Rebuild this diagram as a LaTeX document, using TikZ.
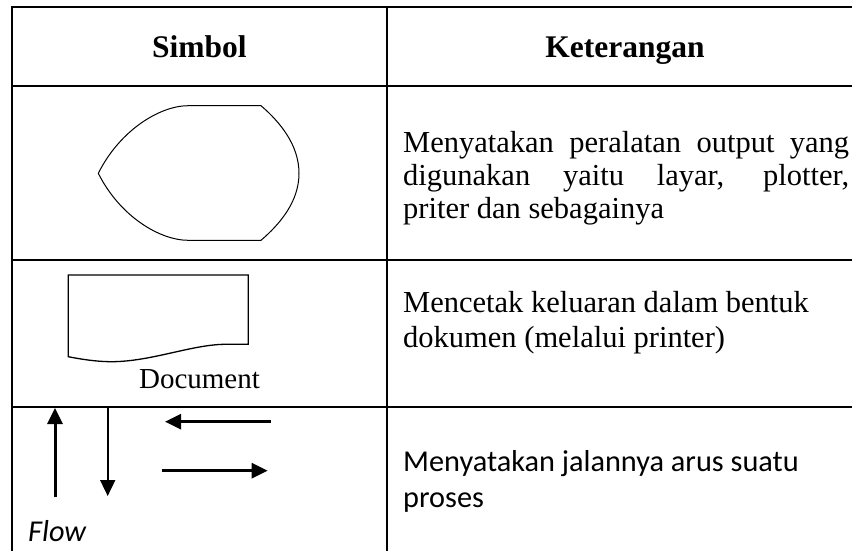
\documentclass[tikz,border=0pt]{standalone}
\usepackage{fontspec}
\setmainfont{Liberation Serif}
\newfontfamily\calibri{Carlito}
\usetikzlibrary{arrows.meta}
\begin{document}
\begin{tikzpicture}[x=1pt,y=-1pt,
  grid/.style={line width=2pt,line cap=rect},
  thinline/.style={line width=1pt,line join=round},
  docline/.style={line width=1.3pt,line join=miter},
  flowarrow/.style={line width=3pt,-{Triangle[length=16pt,width=15pt]}},
  head/.style={font=\fontsize{31.5}{36}\selectfont\bfseries,anchor=base,inner sep=0pt},
  body/.style={font=\fontsize{30.5}{35}\selectfont,anchor=base west,inner sep=0pt},
  cbody/.style={font=\calibri\fontsize{30.3}{36.6}\selectfont,anchor=base west,inner sep=0pt}]
\useasboundingbox (0,0) rectangle (852,550);
\clip (0,0) rectangle (852,550);

% table rules
\coordinate (tl) at (11.7,7.3);
\coordinate (tr) at (880,7.3);
\coordinate (bl) at (11.7,570);
\coordinate (ct) at (387,7.3);
\coordinate (cb) at (387,570);
\coordinate (h1l) at (11.7,86);   \coordinate (h1r) at (880,86);
\coordinate (h2l) at (11.7,260);  \coordinate (h2r) at (880,260);
\coordinate (h3l) at (11.7,406.7);\coordinate (h3r) at (880,406.7);
\draw[grid] (bl) -- (tl) -- (tr);
\draw[grid] (ct) -- (cb);
\draw[grid] (h1l) -- (h1r);
\draw[grid] (h2l) -- (h2r);
\draw[grid] (h3l) -- (h3r);

% header
\node[head] (hsym) at (199.4,57) {Simbol};
\node[head] (hket) at (625,57) {Keterangan};

% display symbol
\draw[thinline] (188.3,105.7) -- (261,105.7)
  .. controls (280,122) and (299,145) .. (299,173.3)
  .. controls (299,201.6) and (280,224) .. (261,240.3)
  -- (188.3,240.3)
  .. controls (160,240.3) and (120,216.6) .. (98.3,173.3)
  .. controls (120,130) and (160,105.7) .. (188.3,105.7) -- cycle;

% document symbol
\draw[docline] (68.3,275) -- (248.3,275) -- (248.3,344.3) -- (224,344.3)
  .. controls (190,345) and (150,362) .. (110,361.7)
  .. controls (95,361.5) and (80,359) .. (68.3,356.7) -- cycle;
\node[font=\fontsize{29}{33}\selectfont,anchor=base,inner sep=0pt] (doclabel) at (199.5,388) {Document};

% flow arrows
\coordinate (upA) at (55,497.3);   \coordinate (upB) at (55,408);
\coordinate (dnA) at (107.7,407.7);\coordinate (dnB) at (107.7,496);
\coordinate (lfA) at (270.7,421.7);\coordinate (lfB) at (165,421.7);
\coordinate (rtA) at (162.3,470.7);\coordinate (rtB) at (267.7,470.7);
\draw[flowarrow] (upA) -- (upB);
\draw[flowarrow,line width=1.8pt] (dnA) -- (dnB);
\draw[flowarrow,line width=2.8pt] (lfA) -- (lfB);
\draw[flowarrow,line width=2.8pt] (rtA) -- (rtB);
\node[font=\calibri\itshape\fontsize{30.3}{36}\selectfont,anchor=base west,inner sep=0pt] (flowlabel) at (28,541) {Flow};

% descriptions
\node[body] (d1a) at (403,152) {\makebox[446pt][s]{Menyatakan peralatan output yang}};
\node[body] (d1b) at (403,185) {\makebox[446pt][s]{digunakan yaitu layar, plotter,}};
\node[body] (d1c) at (403,218) {priter dan sebagainya};
\node[body] (d2a) at (403,312.5) {Mencetak keluaran dalam bentuk};
\node[body] (d2b) at (403,347.5) {dokumen (melalui printer)};
\node[cbody] (d3a) at (403,471) {Menyatakan jalannya arus suatu};
\node[cbody] (d3b) at (403,507.5) {proses};
\end{tikzpicture}
\end{document}
